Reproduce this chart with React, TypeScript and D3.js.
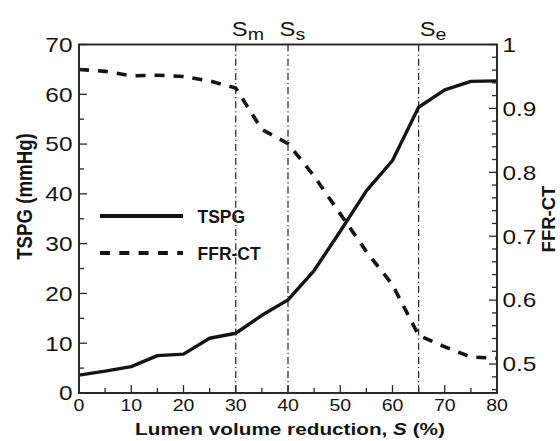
import React from "react";
import * as d3 from "d3";

// ---- data ----
const reductionS = [0, 5, 10, 15, 20, 25, 30, 35, 40, 45, 50, 55, 60, 65, 70, 75, 80];
const tspgValues = [3.6, 4.4, 5.3, 7.5, 7.8, 11.0, 12.0, 15.6, 18.7, 24.6, 32.5, 40.6, 46.7, 57.4, 60.9, 62.6, 62.7];
const ffrValues = [0.961, 0.958, 0.951, 0.952, 0.95, 0.943, 0.932, 0.867, 0.845, 0.794, 0.735, 0.676, 0.624, 0.545, 0.527, 0.511, 0.509];
const markerS = [30, 40, 65];
const markerSub = ["m", "s", "e"];
const xTickLabels = ["0", "10", "20", "30", "40", "50", "60", "70", "80"];
const leftTickLabels = ["0", "10", "20", "30", "40", "50", "60", "70"];
const rightTickLabels = ["0.5", "0.6", "0.7", "0.8", "0.9", "1"];
const legendLabels = ["TSPG", "FFR-CT"];

// ---- layout ----
const W = 560, H = 441;
const L = 79, R = 497, T = 44.5, B = 393;
const FONT = "'Liberation Sans', Arial, Helvetica, sans-serif";
const INK = "#141414";
const AX = "#2a2a2a";
const SX = 1.22; // horizontal text stretch of the reference
const markerDx = [-4, -8.5, 1];

const x = d3.scaleLinear().domain([0, 80]).range([L, R]);
const yL = d3.scaleLinear().domain([0, 70]).range([B, T]);
const yR = d3.scaleLinear().domain([0.4547, 1]).range([B, T]);

function SText(props: any) {
  const { x: tx, y: ty, sx = SX, rot, children, ...rest } = props;
  return (
    <text
      transform={`translate(${tx},${ty}) scale(${sx},1)${rot ? ` rotate(${rot})` : ""}`}
      fontFamily={FONT}
      fill={INK}
      {...rest}
    >
      {children}
    </text>
  );
}

export default function App() {
  const tspgLine = d3
    .line<number>()
    .x((_, i) => x(reductionS[i]))
    .y((d) => yL(d));
  const ffrLine = d3
    .line<number>()
    .x((_, i) => x(reductionS[i]))
    .y((d) => yR(d));

  const xMinor = d3.range(0, 80.01, 5);
  const leftMinor = d3.range(0, 70.01, 5);
  const rightMinor = d3.range(0.46, 1.0001, 0.02);

  return (
    <svg
      width={W}
      height={H}
      style={{ position: "absolute", left: 0, top: 0, background: "#fff" }}
    >
      <rect x={0} y={0} width={W} height={H} fill="#fff" />

      {/* marker vertical lines */}
      {markerS.map((s, i) => (
        <line
          key={"m" + i}
          x1={x(s)}
          x2={x(s)}
          y1={T}
          y2={B}
          stroke="#222"
          strokeWidth={1.2}
          strokeDasharray="7,3,1.2,3"
        />
      ))}

      {/* data lines */}
      <path d={tspgLine(tspgValues) || ""} fill="none" stroke={INK} strokeWidth={3.4} strokeLinejoin="round" />
      <path d={ffrLine(ffrValues) || ""} fill="none" stroke={INK} strokeWidth={3.6} strokeDasharray="10,9" />

      {/* x ticks */}
      {xMinor.map((v) => {
        const major = Math.round(v) % 10 === 0;
        return (
          <line key={"xt" + v} x1={x(v)} x2={x(v)} y1={B} y2={B - (major ? 8 : 5)} stroke={AX} strokeWidth={1.3} />
        );
      })}
      {xTickLabels.map((lab) => (
        <SText key={"xl" + lab} x={x(+lab)} y={B + 18} fontSize={16} textAnchor="middle">
          {lab}
        </SText>
      ))}

      {/* left ticks */}
      {leftMinor.map((v) => {
        const major = Math.round(v) % 10 === 0;
        return (
          <line key={"lt" + v} x1={L} x2={L + (major ? 8 : 5)} y1={yL(v)} y2={yL(v)} stroke={AX} strokeWidth={1.3} />
        );
      })}
      {leftTickLabels.map((lab) => (
        <SText key={"ll" + lab} x={L - 6.5} y={yL(+lab) + 7.3} fontSize={20} textAnchor="end">
          {lab}
        </SText>
      ))}

      {/* right ticks */}
      {rightMinor.map((v, i) => {
        const major = Math.abs(v * 10 - Math.round(v * 10)) < 1e-6;
        return (
          <line key={"rt" + i} x1={R} x2={R - (major ? 8 : 5)} y1={yR(v)} y2={yR(v)} stroke={AX} strokeWidth={1.3} />
        );
      })}
      {rightTickLabels.map((lab) => (
        <SText key={"rl" + lab} x={R + 5.5} y={yR(+lab) + 7.3} fontSize={20} textAnchor="start">
          {lab}
        </SText>
      ))}

      {/* frame */}
      <rect x={L} y={T} width={R - L} height={B - T} fill="none" stroke={AX} strokeWidth={2} />

      {/* marker labels */}
      {markerS.map((s, i) => (
        <SText key={"ml" + i} x={x(s) + markerDx[i]} y={36} fontSize={19.5}>
          S<tspan dy={3.5} fontSize={16}>{markerSub[i]}</tspan>
        </SText>
      ))}

      {/* axis titles */}
      <SText x={(L + R) / 2 + 2} y={435} fontSize={17} fontWeight="bold" textAnchor="middle">
        Lumen volume reduction, <tspan fontStyle="italic">S</tspan> (%)
      </SText>
      <SText x={31.5} y={196.5} rot={-90} fontSize={18.7} fontWeight="bold" textAnchor="middle">
        TSPG (mmHg)
      </SText>
      <SText x={555} y={219} sx={1} rot={-90} fontSize={18.5} fontWeight="bold" textAnchor="middle">
        FFR-CT
      </SText>

      {/* legend */}
      <line x1={100} x2={183} y1={216} y2={216} stroke={INK} strokeWidth={3.8} />
      <line x1={100} x2={183} y1={253} y2={253} stroke={INK} strokeWidth={3.8} strokeDasharray="10,9.3" />
      <SText x={197.5} y={222.5} sx={1} fontSize={17.5} fontWeight="bold">
        {legendLabels[0]}
      </SText>
      <SText x={197.5} y={259.5} sx={1} fontSize={17.5} fontWeight="bold">
        {legendLabels[1]}
      </SText>
    </svg>
  );
}
